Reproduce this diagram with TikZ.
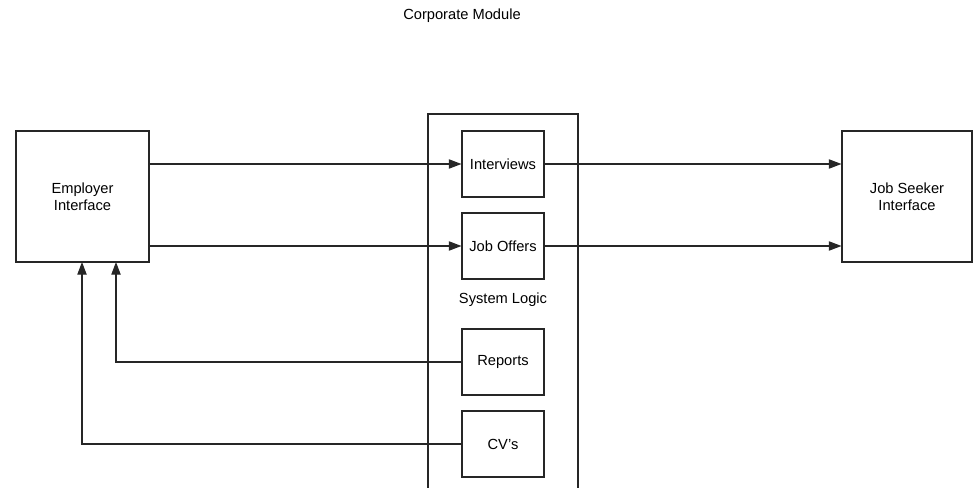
\documentclass[tikz,border=0pt]{standalone}
\usepackage{fontspec}
\setmainfont{Liberation Sans}
\usetikzlibrary{arrows.meta,calc}
\begin{document}
\begin{tikzpicture}[x=0.75pt,y=-0.75pt,
  line width=0.8pt,
  ink/.style={draw=black!85},
  box/.style={ink,fill=white,rectangle,inner sep=0pt,align=center,
    font=\fontsize{11}{13}\selectfont},
  flow/.style={ink,-{Triangle[length=9.5pt,width=7pt]}},
  lbl/.style={inner sep=0pt,font=\fontsize{11}{13}\selectfont}]
\useasboundingbox (0,0) rectangle (973,488);

% title
\node[lbl] (title) at (462,16) {Corporate Module};

% system logic container (open at the bottom edge)
\coordinate (slbl) at (428,490);
\coordinate (sltl) at (428,114);
\coordinate (sltr) at (578,114);
\coordinate (slbr) at (578,490);
\draw[ink] (slbl) -- (sltl) -- (sltr) -- (slbr);
\node[lbl] (sl) at (503,300) {System Logic};

% outer interfaces
\node[box,minimum width=133*0.75pt,minimum height=131*0.75pt] (emp) at (82.5,196.5) {Employer\\Interface};
\node[box,minimum width=130*0.75pt,minimum height=131*0.75pt] (seek) at (907,196.5) {Job Seeker\\Interface};

% inner modules
\node[box,minimum width=82*0.75pt,minimum height=66*0.75pt] (intv) at (503,164) {Interviews};
\node[box,minimum width=82*0.75pt,minimum height=66*0.75pt] (offer) at (503,246) {Job Offers};
\node[box,minimum width=82*0.75pt,minimum height=66*0.75pt] (rep) at (503,362) {Reports};
\node[box,minimum width=82*0.75pt,minimum height=66*0.75pt] (cv) at (503,444) {CV's};

% flows from employer through modules to job seeker
\draw[flow] (emp.east |- intv.west) -- (intv.west);
\draw[flow] (emp.east |- offer.west) -- (offer.west);
\draw[flow] (intv.east) -- (seek.west |- intv.east);
\draw[flow] (offer.east) -- (seek.west |- offer.east);

% feedback to employer
\coordinate (repin) at (116,262);
\coordinate (cvin) at (82,262);
\draw[flow] (rep.west) -| (repin);
\draw[flow] (cv.west) -| (cvin);
\end{tikzpicture}
\end{document}
